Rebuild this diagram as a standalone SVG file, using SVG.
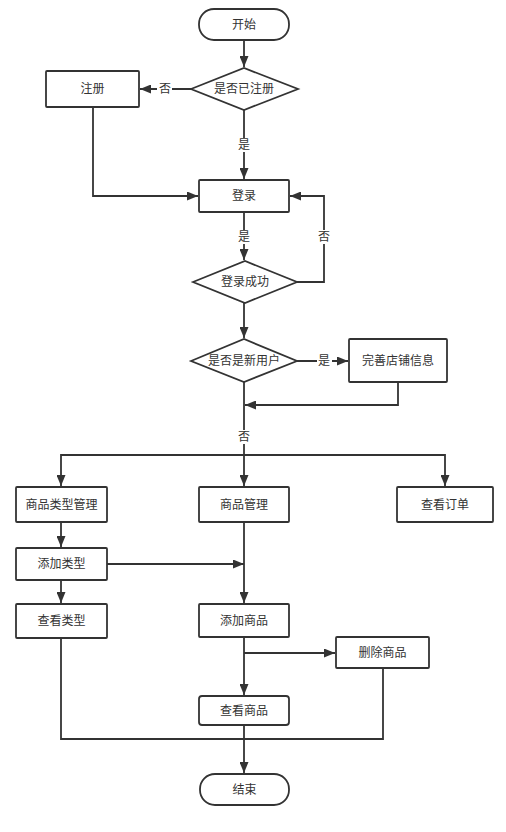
<svg xmlns="http://www.w3.org/2000/svg" width="506" height="832" viewBox="0 0 506 832">
<style>
.n{fill:#fff;stroke:#333;stroke-width:1.8}
.t{font-family:"Liberation Sans","Noto Sans CJK SC",sans-serif;font-size:12px;fill:#333;text-anchor:middle;dominant-baseline:central}
.c{fill:none;stroke:#333;stroke-width:1.8}
.lb{fill:#fff}
</style>
<defs>
<marker id="a" markerWidth="11" markerHeight="9" refX="11" refY="4.5" orient="auto" markerUnits="userSpaceOnUse">
<path d="M0,0 L11,4.5 L0,9 Z" fill="#333"/>
</marker>
</defs>
<rect width="506" height="832" fill="#fff"/>
<g id="connectors">
<path class="c" d="M244,40 V67" marker-end="url(#a)"/>
<path class="c" d="M191,89 H140" marker-end="url(#a)"/>
<path class="c" d="M244,110 V179" marker-end="url(#a)"/>
<path class="c" d="M93,107 V196 H198" marker-end="url(#a)"/>
<path class="c" d="M244,212 V260" marker-end="url(#a)"/>
<path class="c" d="M297,282 H324 V196 H290" marker-end="url(#a)"/>
<path class="c" d="M244,303 V338" marker-end="url(#a)"/>
<path class="c" d="M297,361 H348" marker-end="url(#a)"/>
<path class="c" d="M398,382 V405 H245" marker-end="url(#a)"/>
<path class="c" d="M244,382 V486" marker-end="url(#a)"/>
<path class="c" d="M244,455 H61 V486" marker-end="url(#a)"/>
<path class="c" d="M244,455 H445 V486" marker-end="url(#a)"/>
<path class="c" d="M61,522 V547" marker-end="url(#a)"/>
<path class="c" d="M107,564 H244" marker-end="url(#a)"/>
<path class="c" d="M61,580 V603" marker-end="url(#a)"/>
<path class="c" d="M244,522 V603" marker-end="url(#a)"/>
<path class="c" d="M244,637 V695" marker-end="url(#a)"/>
<path class="c" d="M244,653 H335" marker-end="url(#a)"/>
<path class="c" d="M61,638 V739 H383 V668"/>
<path class="c" d="M244,725 V773" marker-end="url(#a)"/>
<rect class="lb" x="157" y="82" width="15" height="14"/>
<text class="t" x="165" y="89">否</text>
<rect class="lb" x="237" y="138" width="15" height="14"/>
<text class="t" x="244" y="145">是</text>
<rect class="lb" x="237" y="230" width="15" height="14"/>
<text class="t" x="244" y="237">是</text>
<rect class="lb" x="317" y="230" width="15" height="14"/>
<text class="t" x="324" y="237">否</text>
<rect class="lb" x="317" y="354" width="15" height="14"/>
<text class="t" x="324" y="361">是</text>
<rect class="lb" x="237" y="430" width="15" height="14"/>
<text class="t" x="244" y="437">否</text>
</g>
<g id="start"><rect class="n" x="199" y="9" width="90" height="31" rx="15"/><text class="t" x="244" y="24.5">开始</text></g>
<g id="isRegistered"><path class="n" d="M191,89 L244,68 L298,89 L244,110 Z"/><text class="t" x="244" y="89">是否已注册</text></g>
<g id="register"><rect class="n" x="46" y="71" width="93" height="36" rx="1"/><text class="t" x="92.5" y="89">注册</text></g>
<g id="login"><rect class="n" x="199" y="180" width="90" height="32" rx="1"/><text class="t" x="244" y="196">登录</text></g>
<g id="loginOk"><path class="n" d="M193,282 L245,261 L297,282 L245,303 Z"/><text class="t" x="245" y="282">登录成功</text></g>
<g id="isNew"><path class="n" d="M191,361 L244,339 L297,361 L244,382 Z"/><text class="t" x="244" y="361">是否是新用户</text></g>
<g id="shopInfo"><rect class="n" x="349" y="339" width="98" height="43" rx="1"/><text class="t" x="398" y="361">完善店铺信息</text></g>
<g id="typeMgmt"><rect class="n" x="16" y="487" width="91" height="35" rx="1"/><text class="t" x="61.5" y="504.5">商品类型管理</text></g>
<g id="goodsMgmt"><rect class="n" x="199" y="487" width="90" height="35" rx="1"/><text class="t" x="244" y="504.5">商品管理</text></g>
<g id="orders"><rect class="n" x="397" y="487" width="96" height="35" rx="1"/><text class="t" x="445" y="504.5">查看订单</text></g>
<g id="addType"><rect class="n" x="16" y="548" width="91" height="32" rx="1"/><text class="t" x="61.5" y="564">添加类型</text></g>
<g id="viewType"><rect class="n" x="16" y="604" width="91" height="34" rx="1"/><text class="t" x="61.5" y="621">查看类型</text></g>
<g id="addGoods"><rect class="n" x="199" y="604" width="90" height="33" rx="1"/><text class="t" x="244" y="620.5">添加商品</text></g>
<g id="delGoods"><rect class="n" x="336" y="637" width="93" height="31" rx="1"/><text class="t" x="382.5" y="652.5">删除商品</text></g>
<g id="viewGoods"><rect class="n" x="199" y="696" width="90" height="29" rx="3"/><text class="t" x="244" y="710.5">查看商品</text></g>
<g id="end"><rect class="n" x="200" y="774" width="89" height="31" rx="15"/><text class="t" x="244.5" y="789.5">结束</text></g>
</svg>
